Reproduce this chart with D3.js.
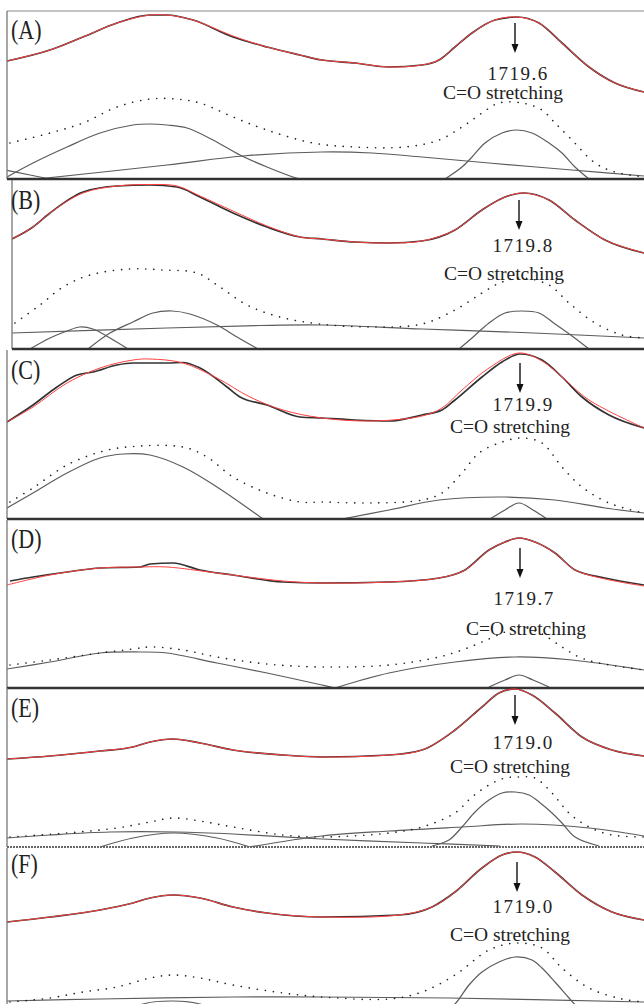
<!DOCTYPE html>
<html><head><meta charset="utf-8">
<script src="https://cdn.jsdelivr.net/npm/d3@7"></script>
<style>html,body{margin:0;padding:0;background:#fff;}svg{display:block}</style>
</head><body>
<svg id="chart" width="644" height="1004"></svg>
<script>
// ---- data: [wavenumber (cm-1), absorbance (a.u.)] ----
const panelLabels = ["(A)","(B)","(C)","(D)","(E)","(F)"];
const peakLabels = ["1719.6","1719.8","1719.9","1719.7","1719.0","1719.0"];
const bandLabel = "C=O stretching";
const arrowAt = [1719.8, 1719.0, 1718.8, 1718.8, 1719.8, 1719.4];

const A_obs = [[1821.4,1.18],[1812.8,1.29],[1806.2,1.42],[1799.4,1.56],[1792.8,1.64],[1789.4,1.64],[1784.2,1.59],[1776.2,1.42],[1769.4,1.32],[1762.8,1.24],[1758.4,1.19],[1751.8,1.16],[1745.0,1.12],[1738.4,1.14],[1735.0,1.19],[1731.8,1.32],[1728.4,1.46],[1723.8,1.59],[1719.4,1.62],[1715.0,1.56],[1710.4,1.36],[1705.0,1.12],[1699.8,0.96],[1694.0,0.87]];
const A_fit = [[1821.4,1.18],[1812.8,1.29],[1806.2,1.42],[1799.4,1.56],[1792.8,1.64],[1789.4,1.64],[1784.2,1.59],[1776.2,1.43],[1769.4,1.32],[1762.8,1.24],[1758.4,1.19],[1751.8,1.16],[1745.0,1.12],[1738.4,1.14],[1735.0,1.19],[1731.8,1.32],[1728.4,1.46],[1723.8,1.59],[1719.4,1.62],[1715.0,1.56],[1710.4,1.36],[1705.0,1.12],[1699.8,0.96],[1694.0,0.87]];
const A_deriv = [[1820.8,0.36],[1812.8,0.46],[1806.2,0.56],[1799.4,0.72],[1792.8,0.80],[1787.8,0.80],[1782.8,0.76],[1776.2,0.62],[1769.4,0.49],[1760.2,0.36],[1751.8,0.32],[1741.8,0.32],[1735.0,0.39],[1730.4,0.52],[1726.4,0.66],[1723.0,0.76],[1718.4,0.76],[1714.4,0.69],[1711.8,0.56],[1708.4,0.39],[1703.8,0.16],[1699.8,0.07],[1694.0,0.02]];
const A_c1 = [[1821.4,0.02],[1816.2,0.16],[1809.4,0.32],[1802.8,0.46],[1796.2,0.54],[1792.8,0.55],[1789.4,0.54],[1785.4,0.51],[1780.2,0.39],[1774.8,0.24],[1769.4,0.12],[1764.2,0.02],[1762.8,0.0]];
const A_c2 = [[1822.8,0.10],[1816.8,0.04],[1812.8,0.0]];
const A_c3 = [[1815.4,0.0],[1789.4,0.14],[1774.2,0.23],[1758.4,0.27],[1748.4,0.26],[1738.4,0.22],[1725.0,0.16],[1708.4,0.09],[1694.0,0.03]];
const A_c4 = [[1733.8,0],[1730.4,0.12],[1728.4,0.22],[1725.8,0.36],[1722.4,0.46],[1719.4,0.49],[1716.4,0.46],[1713.0,0.36],[1710.4,0.26],[1707.8,0.12],[1705.0,0]];

const B_obs = [[1820.4,1.10],[1816.2,1.22],[1812.8,1.36],[1806.2,1.57],[1799.4,1.63],[1792.8,1.64],[1787.4,1.62],[1782.8,1.52],[1776.2,1.36],[1769.4,1.22],[1762.8,1.12],[1758.4,1.10],[1751.8,1.07],[1745.0,1.06],[1738.4,1.08],[1731.8,1.19],[1726.4,1.39],[1721.8,1.52],[1718.0,1.56],[1713.0,1.49],[1707.8,1.29],[1701.8,1.09],[1694.0,0.96]];
const B_fit = [[1820.4,1.10],[1816.2,1.22],[1812.8,1.36],[1806.2,1.56],[1799.4,1.63],[1792.8,1.645],[1787.4,1.63],[1782.8,1.53],[1776.2,1.38],[1769.4,1.23],[1762.8,1.12],[1758.4,1.10],[1751.8,1.07],[1745.0,1.06],[1738.4,1.08],[1731.8,1.19],[1726.4,1.39],[1721.8,1.52],[1718.0,1.56],[1713.0,1.49],[1707.8,1.29],[1701.8,1.09],[1694.0,0.96]];
const B_deriv = [[1819.8,0.26],[1814.8,0.44],[1810.2,0.62],[1804.8,0.74],[1796.8,0.80],[1790.2,0.79],[1783.4,0.76],[1778.8,0.62],[1773.4,0.44],[1766.8,0.32],[1758.8,0.25],[1748.4,0.22],[1738.4,0.25],[1731.8,0.39],[1726.4,0.56],[1722.4,0.67],[1718.4,0.71],[1713.0,0.64],[1709.0,0.46],[1703.8,0.26],[1698.4,0.14],[1694.0,0.11]];
const B_c1 = [[1816.8,0],[1812.8,0.11],[1809.4,0.18],[1806.8,0.22],[1804.2,0.20],[1800.8,0.11],[1797.2,0]];
const B_c2 = [[1805.2,0],[1800.8,0.16],[1796.2,0.27],[1792.2,0.36],[1788.4,0.38],[1784.8,0.35],[1779.4,0.24],[1775.4,0.12],[1771.2,0]];
const B_c3 = [[1820.4,0.16],[1789.4,0.21],[1770.8,0.235],[1758.4,0.24],[1738.4,0.20],[1718.4,0.165],[1694.0,0.11]];
const B_c4 = [[1731.0,0],[1728.4,0.11],[1725.0,0.26],[1721.8,0.36],[1718.4,0.38],[1715.0,0.36],[1711.8,0.25],[1708.4,0.13],[1705.0,0]];

const C_obs = [[1821.4,0.97],[1816.2,1.14],[1811.4,1.32],[1807.4,1.44],[1804.2,1.47],[1799.4,1.54],[1796.2,1.56],[1789.4,1.56],[1786.2,1.565],[1782.8,1.51],[1777.4,1.32],[1774.8,1.22],[1769.4,1.14],[1762.8,1.02],[1758.4,1.01],[1751.8,0.99],[1745.0,0.98],[1738.4,1.04],[1734.4,1.09],[1731.8,1.19],[1726.4,1.42],[1722.4,1.57],[1718.8,1.65],[1714.4,1.59],[1710.4,1.42],[1706.4,1.22],[1701.0,1.04],[1694.0,0.91]];
const C_fit = [[1821.4,0.97],[1816.2,1.12],[1809.4,1.36],[1802.8,1.51],[1796.2,1.59],[1792.8,1.60],[1786.2,1.56],[1779.4,1.41],[1772.8,1.22],[1766.2,1.09],[1758.4,1.01],[1748.4,0.98],[1738.4,1.03],[1734.4,1.11],[1730.4,1.29],[1725.0,1.51],[1719.0,1.66],[1714.4,1.58],[1710.4,1.42],[1705.0,1.19],[1694.0,0.91]];
const C_deriv = [[1820.8,0.17],[1816.2,0.31],[1809.4,0.54],[1802.8,0.67],[1797.4,0.72],[1786.2,0.72],[1781.4,0.62],[1776.2,0.42],[1769.4,0.26],[1762.8,0.17],[1758.4,0.17],[1748.4,0.16],[1738.4,0.19],[1734.4,0.26],[1730.4,0.46],[1727.0,0.66],[1722.4,0.77],[1718.4,0.81],[1714.4,0.76],[1710.4,0.52],[1706.4,0.32],[1701.0,0.16],[1694.0,0.06]];
const C_c1 = [[1821.4,0.11],[1816.2,0.26],[1809.4,0.46],[1802.8,0.61],[1798.2,0.65],[1792.8,0.64],[1786.2,0.52],[1779.4,0.32],[1770.2,0]];
const C_c2 = [[1754.4,0],[1745.0,0.09],[1735.0,0.19],[1721.8,0.22],[1711.8,0.19],[1701.8,0.11],[1694.0,0.06]];
const C_c3 = [[1724.8,0],[1721.8,0.09],[1719.0,0.16],[1716.2,0.09],[1713.4,0]];

const D_obs = [[1820.8,1.07],[1816.2,1.11],[1809.4,1.16],[1802.8,1.20],[1794.8,1.21],[1792.8,1.24],[1788.2,1.25],[1782.8,1.18],[1776.2,1.13],[1766.2,1.06],[1758.4,1.05],[1745.0,1.06],[1735.0,1.10],[1729.8,1.18],[1725.0,1.38],[1721.8,1.46],[1719.0,1.50],[1715.8,1.46],[1711.8,1.35],[1707.8,1.18],[1701.8,1.10],[1694.0,1.03]];
const D_fit = [[1821.4,1.03],[1812.8,1.13],[1802.8,1.20],[1794.8,1.21],[1789.4,1.21],[1779.4,1.15],[1766.2,1.07],[1758.4,1.05],[1745.0,1.06],[1735.0,1.10],[1729.8,1.18],[1725.0,1.38],[1721.8,1.46],[1719.0,1.50],[1715.8,1.46],[1711.8,1.35],[1707.8,1.18],[1701.8,1.09],[1694.0,1.02]];
const D_deriv = [[1820.8,0.23],[1812.8,0.28],[1802.8,0.35],[1796.2,0.39],[1792.8,0.41],[1786.2,0.38],[1779.4,0.31],[1769.4,0.24],[1758.4,0.21],[1745.0,0.23],[1735.0,0.31],[1730.4,0.38],[1726.4,0.46],[1721.8,0.56],[1718.8,0.61],[1714.8,0.55],[1710.4,0.41],[1707.0,0.31],[1703.0,0.25],[1694.0,0.18]];
const D_c1 = [[1821.4,0.19],[1812.8,0.26],[1802.8,0.35],[1794.8,0.36],[1789.4,0.35],[1779.4,0.25],[1769.4,0.15],[1758.4,0.03],[1755.8,0]];
const D_c2 = [[1755.8,0],[1745.0,0.15],[1731.8,0.26],[1719.8,0.31],[1708.4,0.28],[1694.0,0.18]];
const D_c3 = [[1725.0,0.01],[1721.8,0.08],[1719.0,0.13],[1716.2,0.08],[1713.0,0.01]];

const E_obs = [[1821.4,0.88],[1812.8,0.91],[1802.8,0.96],[1796.2,1.00],[1792.8,1.05],[1788.2,1.08],[1782.8,1.04],[1776.2,0.97],[1766.2,0.92],[1758.4,0.90],[1745.0,0.92],[1738.4,0.97],[1731.8,1.17],[1726.4,1.40],[1723.0,1.54],[1719.8,1.58],[1716.4,1.52],[1711.8,1.34],[1706.4,1.10],[1700.4,0.97],[1694.0,0.91]];
const E_fit = [[1821.4,0.88],[1812.8,0.91],[1802.8,0.96],[1796.2,1.00],[1792.8,1.05],[1788.2,1.08],[1782.8,1.04],[1776.2,0.97],[1766.2,0.92],[1758.4,0.90],[1745.0,0.92],[1738.4,0.97],[1731.8,1.17],[1726.4,1.40],[1723.0,1.54],[1719.8,1.58],[1716.4,1.52],[1711.8,1.34],[1706.4,1.10],[1700.4,0.97],[1694.0,0.91]];
const E_deriv = [[1820.8,0.10],[1809.4,0.14],[1799.4,0.19],[1792.8,0.25],[1788.2,0.29],[1782.8,0.26],[1776.2,0.20],[1766.2,0.12],[1758.4,0.10],[1745.0,0.14],[1738.4,0.20],[1731.8,0.34],[1728.4,0.50],[1725.0,0.62],[1721.8,0.69],[1718.8,0.70],[1715.8,0.69],[1712.4,0.54],[1709.0,0.34],[1705.0,0.20],[1700.4,0.12],[1694.0,0.10]];
const E_c1 = [[1821.4,0.09],[1812.8,0.12],[1800.8,0.15],[1787.4,0.15],[1776.2,0.13],[1758.4,0.08],[1738.4,0.04],[1722.8,0.01]];
const E_c2 = [[1802.8,0],[1796.2,0.09],[1788.2,0.14],[1779.4,0.09],[1772.8,0]];
const E_c3 = [[1772.8,0],[1758.4,0.11],[1745.0,0.16],[1730.4,0.20],[1718.4,0.23],[1705.0,0.19],[1694.0,0.11]];
const E_c4 = [[1736.4,0.01],[1733.0,0.07],[1730.4,0.20],[1727.8,0.35],[1725.0,0.47],[1722.4,0.54],[1719.8,0.55],[1717.0,0.52],[1715.0,0.45],[1712.4,0.34],[1710.4,0.24],[1707.8,0.10],[1703.0,0.01]];

const F_obs = [[1821.4,0.94],[1812.8,0.99],[1802.8,1.06],[1796.2,1.13],[1792.8,1.18],[1788.2,1.21],[1782.8,1.18],[1776.2,1.09],[1769.4,1.03],[1758.4,0.99],[1743.0,1.01],[1736.4,1.09],[1731.8,1.24],[1726.4,1.48],[1722.4,1.61],[1719.4,1.64],[1715.8,1.59],[1711.8,1.44],[1706.4,1.21],[1700.4,1.04],[1694.0,0.96]];
const F_fit = [[1821.4,0.94],[1812.8,0.99],[1802.8,1.06],[1796.2,1.13],[1792.8,1.18],[1788.2,1.21],[1782.8,1.18],[1776.2,1.09],[1769.4,1.03],[1758.4,0.99],[1743.0,1.01],[1736.4,1.09],[1731.8,1.24],[1726.4,1.48],[1722.4,1.61],[1719.4,1.64],[1715.8,1.59],[1711.8,1.44],[1706.4,1.21],[1700.4,1.04],[1694.0,0.96]];
const F_deriv = [[1820.8,0.14],[1812.8,0.18],[1806.2,0.24],[1799.4,0.29],[1792.8,0.38],[1788.2,0.41],[1782.8,0.38],[1776.2,0.31],[1766.2,0.23],[1758.4,0.19],[1745.0,0.17],[1738.4,0.24],[1731.8,0.41],[1725.0,0.66],[1719.4,0.73],[1714.4,0.68],[1710.4,0.48],[1705.0,0.28],[1698.4,0.17],[1694.0,0.14]];
const F_c1 = [[1821.4,0.15],[1802.8,0.17],[1776.2,0.19],[1758.4,0.19],[1732.8,0.18],[1694.0,0.14]];
const F_c2 = [[1798.8,0],[1794.2,0.12],[1788.2,0.15],[1782.8,0.12],[1777.8,0]];
const F_c3 = [[1734.8,0],[1731.8,0.12],[1729.0,0.31],[1726.4,0.44],[1723.0,0.54],[1719.8,0.59],[1716.4,0.56],[1714.4,0.48],[1711.8,0.34],[1709.0,0.18],[1705.8,0]];

// ---- assembly ----
const series = [
  {obs:A_obs, fit:A_fit, deriv:A_deriv, comps:[A_c1,A_c2,A_c3,A_c4]},
  {obs:B_obs, fit:B_fit, deriv:B_deriv, comps:[B_c1,B_c2,B_c3,B_c4]},
  {obs:C_obs, fit:C_fit, deriv:C_deriv, comps:[C_c1,C_c2,C_c3]},
  {obs:D_obs, fit:D_fit, deriv:D_deriv, comps:[D_c1,D_c2,D_c3]},
  {obs:E_obs, fit:E_fit, deriv:E_deriv, comps:[E_c1,E_c2,E_c3,E_c4]},
  {obs:F_obs, fit:F_fit, deriv:F_deriv, comps:[F_c1,F_c2,F_c3]}
];

// layout (pixels)
const W = 644;
const layout = [
  {top:11,  bottom:179,  left:7,  labY:28, arrTop:12, numY:69, bandY:88,  numDx:3, bandDx:-12},
  {top:180, bottom:349,  left:12, labY:29, arrTop:20, numY:72, bandY:100, numDx:4, bandDx:-15},
  {top:350, bottom:519,  left:7,  labY:29, arrTop:13, numY:61, bandY:83,  numDx:3, bandDx:-10},
  {top:520, bottom:688,  left:7,  labY:28, arrTop:28, numY:85, bandY:115, numDx:4, bandDx:6},
  {top:688, bottom:847,  left:7,  labY:29, arrTop:7,  numY:61, bandY:85,  numDx:8, bandDx:-5},
  {top:848, bottom:1016, left:7,  labY:25, arrTop:14, numY:65, bandY:93,  numDx:6, bandDx:-7}
];

const svg = d3.select("#chart");
const x = d3.scaleLinear().domain([1822.8, 1694.0]).range([0, W]);
const serif = "'Liberation Serif','DejaVu Serif',serif";

series.forEach((s, i) => {
  const L = layout[i];
  const y = d3.scaleLinear().domain([0, 1]).range([L.bottom, L.bottom - 100]);
  const line = d3.line().x(d => x(d[0])).y(d => y(d[1])).curve(d3.curveMonotoneX);
  const smooth = d3.line().x(d => x(d[0])).y(d => y(d[1])).curve(d3.curveCatmullRom.alpha(0.5));
  const cid = "clip" + i;
  svg.append("clipPath").attr("id", cid).append("rect")
    .attr("x", L.left).attr("y", L.top).attr("width", W - L.left).attr("height", L.bottom - L.top);
  const g = svg.append("g").attr("clip-path", `url(#${cid})`);

  g.selectAll("path.comp").data(s.comps).join("path").attr("class","comp")
    .attr("d", smooth).attr("fill","none").attr("stroke","#5c5c5c").attr("stroke-width",1.2);
  g.append("path").attr("d", smooth(s.deriv)).attr("fill","none")
    .attr("stroke","#222").attr("stroke-width",1.6).attr("stroke-linecap","round")
    .attr("stroke-dasharray","0.1 8");
  g.append("path").attr("d", line(s.obs)).attr("fill","none")
    .attr("stroke","#333").attr("stroke-width",1.7);
  g.append("path").attr("d", smooth(s.fit)).attr("fill","none")
    .attr("stroke","#ff4040").attr("stroke-width",1.0);

  // frame
  if (i === 0) svg.append("line").attr("x1",L.left).attr("x2",W).attr("y1",L.top).attr("y2",L.top)
    .attr("stroke","#8a8a8a").attr("stroke-width",1.2);
  svg.append("line").attr("x1",L.left).attr("x2",L.left).attr("y1",L.top).attr("y2",L.bottom)
    .attr("stroke","#777").attr("stroke-width",1.3);
  const sep = svg.append("line").attr("x1",L.left).attr("x2",W).attr("y1",L.bottom).attr("y2",L.bottom)
    .attr("stroke", i === 4 ? "#666" : "#333").attr("stroke-width", i === 4 ? 2 : 2.6);
  if (i === 4) sep.attr("stroke-dasharray","2 1");

  // label
  svg.append("text").attr("transform", `translate(11,${L.top + L.labY}) scale(0.88,1.1)`)
    .attr("font-family", serif).attr("font-size", 25).attr("fill","#222").text(panelLabels[i]);

  // arrow
  const ax = x(arrowAt[i]);
  const y0 = L.top + L.arrTop, y1 = y0 + 30;
  svg.append("line").attr("x1",ax).attr("x2",ax).attr("y1",y0).attr("y2",y1-6)
    .attr("stroke","#111").attr("stroke-width",1.4);
  svg.append("path").attr("d", d3.line()([[ax-3.5,y1-9],[ax+3.5,y1-9],[ax,y1]]) + "Z").attr("fill","#111");

  svg.append("text").attr("x", ax + L.numDx).attr("y", L.top + L.numY).attr("text-anchor","middle")
    .attr("font-family", serif).attr("font-size", 19).attr("letter-spacing", 1.5).attr("fill","#222")
    .text(peakLabels[i]);
  svg.append("text").attr("x", ax + L.bandDx).attr("y", L.top + L.bandY).attr("text-anchor","middle")
    .attr("font-family", serif).attr("font-size", 19.5).attr("fill","#222")
    .text(bandLabel);
});
</script>
</body></html>
